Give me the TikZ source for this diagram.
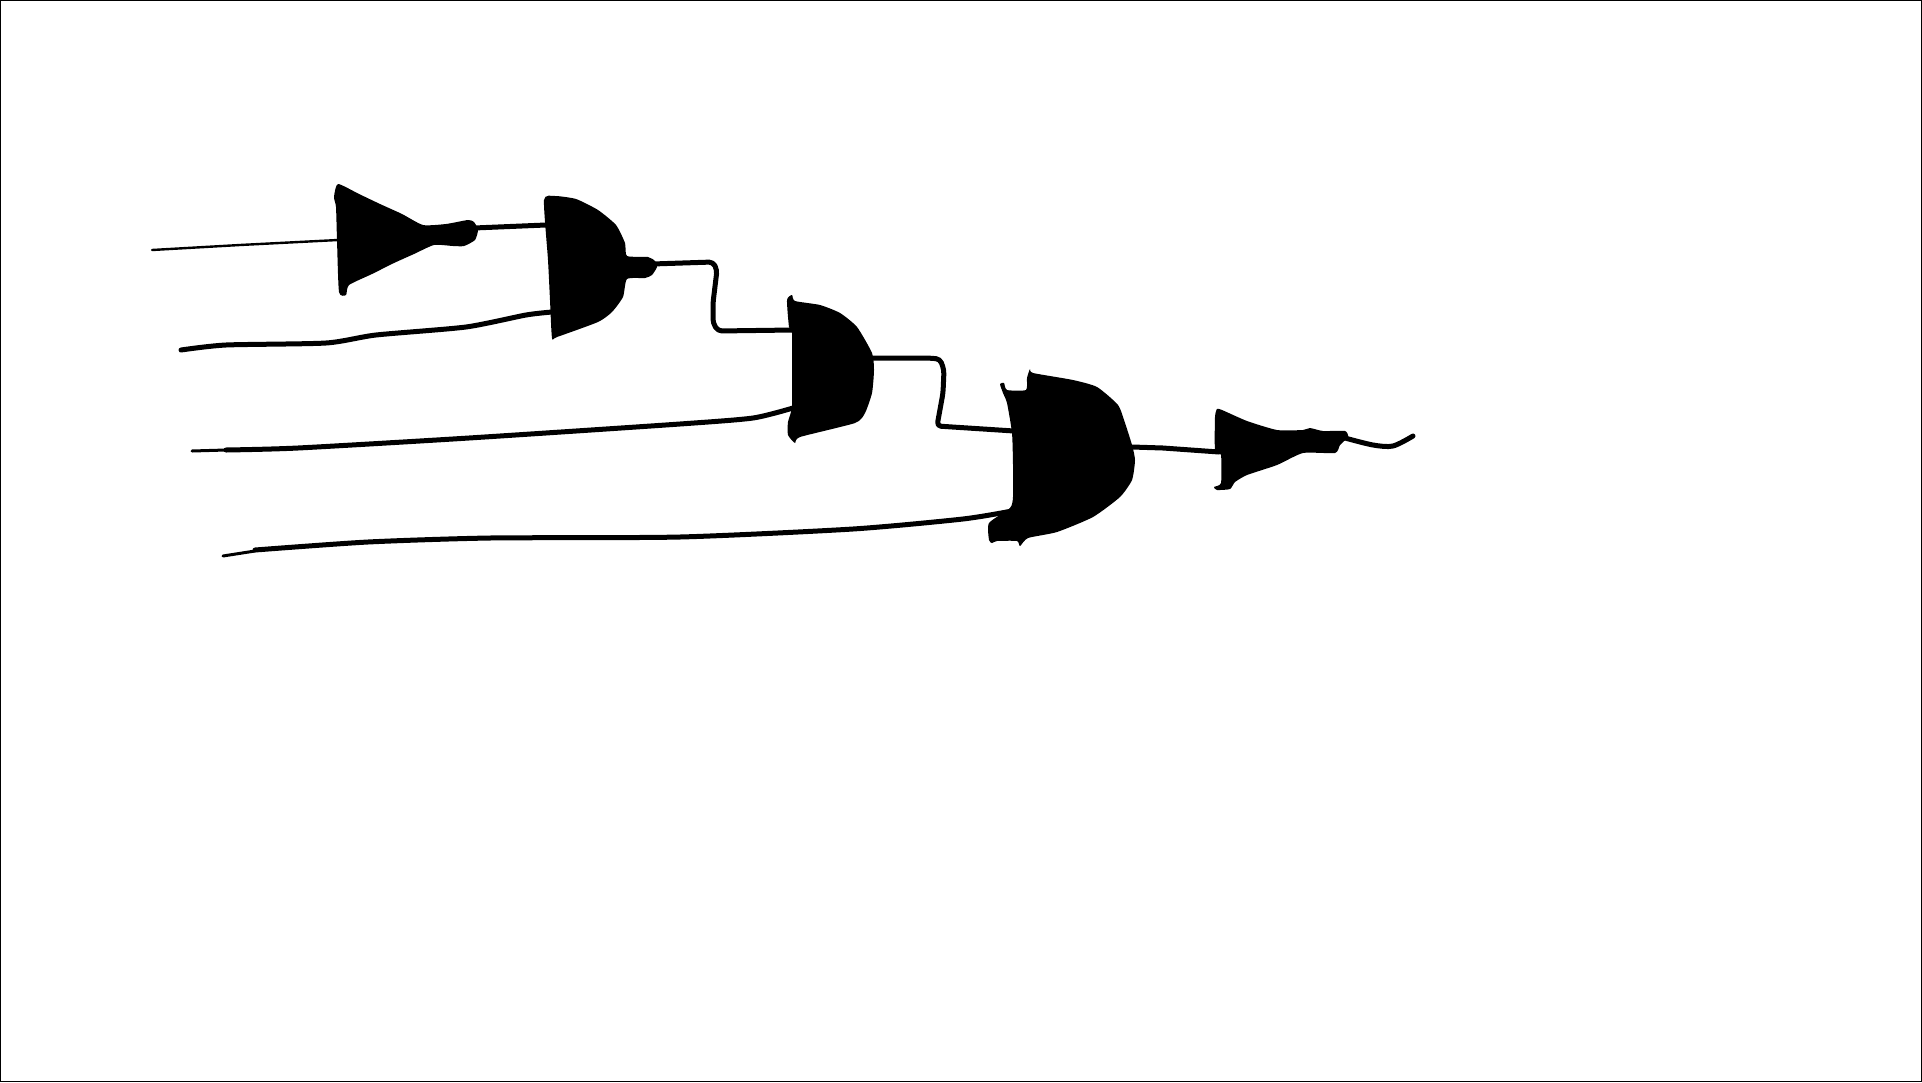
\documentclass[tikz,border=0pt]{standalone}
\usepackage{tikz}

\tikzset{
    gate/.style={fill=black,smooth cycle,tension=0.35},
    wire/.style={draw=black,line width=5pt,line cap=round,line join=round},
    thinwire/.style={wire,line width=2.4pt},
}

\begin{document}
\begin{tikzpicture}[x=1pt,y=-1pt]
    \useasboundingbox (0,0) rectangle (1922,1082);
    \draw[line width=1.2pt] (0.6,0.6) rectangle (1921.4,1081.4);

    \coordinate (a) at (152,250);
    \coordinate (b) at (181,350);
    \coordinate (c) at (192,451);
    \coordinate (d) at (223,556);
    \coordinate (notAin) at (338,240);
    \coordinate (notAout) at (474,228);
    \coordinate (andAtop) at (546,225);
    \coordinate (andAbot) at (552,312);
    \coordinate (andAout) at (652,264);
    \coordinate (andBtop) at (793,330);
    \coordinate (andBbot) at (793,408);
    \coordinate (andBout) at (872,358);
    \coordinate (andCtop) at (1014,431);
    \coordinate (andCbot) at (1012,511);
    \coordinate (andCout) at (1132,447);
    \coordinate (notBin) at (1219,452);
    \coordinate (notBout) at (1345,438);
    \coordinate (y) at (1413,436);

    \fill[gate] plot coordinates {(338,184) (359,194) (380,204) (402,214) (423,225) (446,224) (468,220) (474,222) (478,230) (475,240) (464,246) (453,246) (434,245) (414,254) (394,263) (372,274) (349,285) (346,295) (339,292) (337,240) (336,207) (334,197)};
    \fill[gate] plot coordinates {(544,200) (555,196) (576,199) (598,210) (616,225) (625,243) (627,256) (648,257) (655,261) (657,267) (652,275) (645,278) (627,279) (623,297) (612,312) (598,322) (557,337) (552,338) (550,300) (548,260)};
    \fill[gate] plot coordinates {(787,300) (792,295) (795,301) (820,305) (840,313) (857,327) (872,353) (874,370) (872,393) (865,413) (855,423) (800,437) (795,443) (788,435) (788,422) (792,407) (792,370) (792,333) (789,327)};
    \fill[gate] plot coordinates {(1000,384) (1004,383) (1007,390) (1026,390) (1027,378) (1030,369) (1033,373) (1073,380) (1097,387) (1118,405) (1125,423) (1132,445) (1135,460) (1132,480) (1120,497) (1093,517) (1057,532) (1028,538) (1020,546) (1017,541) (997,541) (992,543) (989,540) (989,523) (1010,508) (1013,497) (1013,465) (1012,433) (1007,403) (1003,393)};
    \fill[gate] plot coordinates {(1217,409) (1222,410) (1247,421) (1277,430) (1303,430) (1310,428) (1323,431) (1345,431) (1348,437) (1340,445) (1335,453) (1303,453) (1277,465) (1247,475) (1235,482) (1230,489) (1217,490) (1214,487) (1221,483) (1221,455) (1215,450) (1215,417)};

    \draw[thinwire] (a) -- (240,245) -- (notAin);
    \draw[wire] (notAout) -- (andAtop);
    \draw[wire] plot[smooth,tension=0.4] coordinates {(b) (226,345) (326,343) (376,335) (466,327) (526,315) (andAbot)};
    \draw[wire,rounded corners=4pt] (andAout) -- (713,262) -- (717,270) -- (713,303) -- (713,323) -- (718,331) -- (andBtop);
    \draw[thinwire,line width=3pt] (c) -- (226,450);
    \draw[wire] plot[smooth,tension=0.4] coordinates {(226,450) (298,448) (469,438) (680,424) (753,418) (andBbot)};
    \draw[wire,rounded corners=4pt] (andBout) -- (928,358) -- (940,359) -- (944,370) -- (943,393) -- (937,426) -- (andCtop);
    \draw[thinwire,line width=3pt] (d) -- (255,551);
    \draw[wire] plot[smooth,tension=0.4] coordinates {(255,550) (368,542) (490,538) (680,537) (853,529) (963,519) (andCbot)};
    \draw[wire] (andCout) -- (1163,448) -- (notBin);
    \draw[wire] plot[smooth,tension=0.5] coordinates {(notBout) (1373,445) (1393,446) (y)};
\end{tikzpicture}
\end{document}
